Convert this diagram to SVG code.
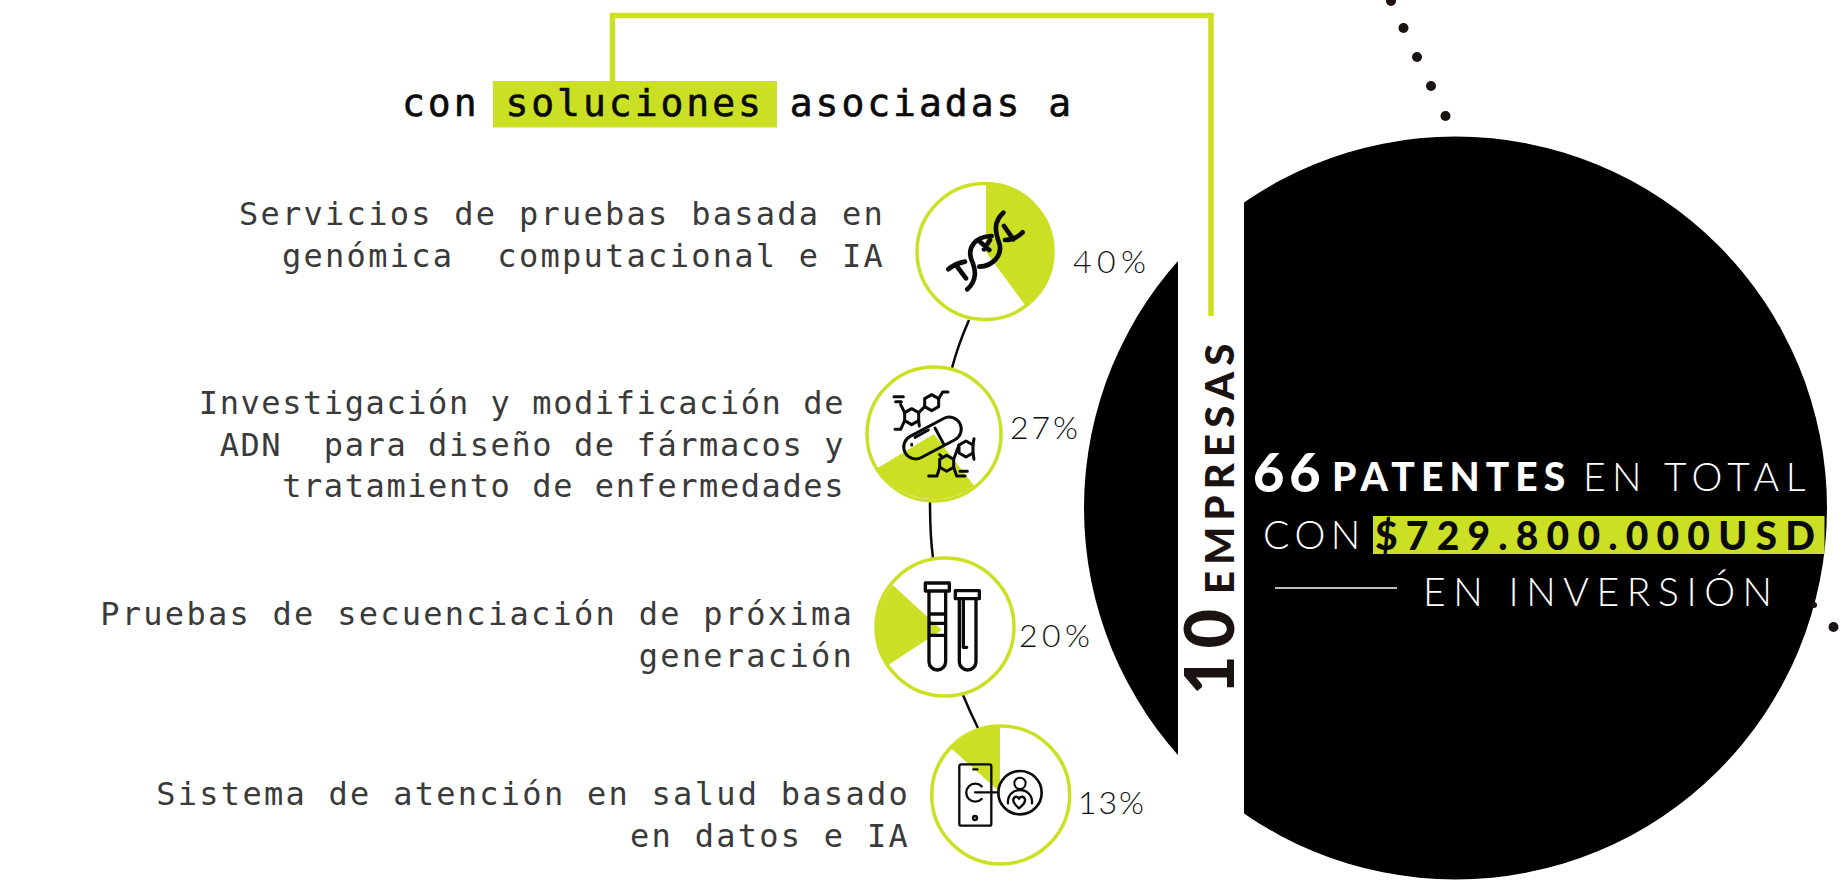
<svg xmlns="http://www.w3.org/2000/svg" width="1842" height="881" viewBox="0 0 1842 881">
<style>
.lime{fill:#cbe024}
.ring{fill:#fff;stroke:#cbe024;stroke-width:3.5}
.lab{font-family:"DejaVu Sans Mono",monospace;font-size:32px;fill:#3a3a3a;text-anchor:end;letter-spacing:2.27px;white-space:pre}
.lab2{letter-spacing:1.58px}
.pct{font-family:Lato,"Open Sans",sans-serif;font-weight:300;font-size:32px;fill:#111}
.hv{font-family:Lato,"Open Sans",sans-serif;font-weight:900;font-size:39px}
.th{font-family:Lato,"Open Sans",sans-serif;font-weight:300;font-size:39px;fill:#fff}
.ic{fill:none;stroke:#0a0a0a;stroke-linecap:round;stroke-linejoin:round}
.dot{fill:#1a1311}
</style>
<rect width="1842" height="881" fill="#fff"/>
<g id="background-disc">
<circle cx="1455.5" cy="508" r="371.5" fill="#000"/>
<rect x="1178" y="130" width="66" height="751" fill="#fff"/>
</g>
<g id="dots">
<circle class="dot" cx="1391" cy="1" r="5"/><circle class="dot" cx="1403.5" cy="28" r="5"/><circle class="dot" cx="1417" cy="57" r="5"/><circle class="dot" cx="1431" cy="86" r="5"/><circle class="dot" cx="1445.5" cy="116" r="5"/><circle class="dot" cx="1814" cy="605" r="3"/><circle class="dot" cx="1833.5" cy="627" r="5"/>
</g>
<g id="connectors" fill="none">
<path d="M612.5,81V15.5H1211V316" stroke="#cbe024" stroke-width="5.5"/>
<path d="M969,320Q958,345 952,368" stroke="#0a0a0a" stroke-width="2.5"/>
<path d="M930,502Q930,535 933,558" stroke="#0a0a0a" stroke-width="2.5"/>
<path d="M963,695Q970,712 978,728" stroke="#0a0a0a" stroke-width="2.5"/>
</g>
<g id="heading">
<rect class="lime" x="493" y="81" width="284" height="46.500"/>
<text x="402" y="116" font-family="'DejaVu Sans Mono',monospace" font-size="38" font-weight="400" fill="#0a0a0a" stroke="#0a0a0a" stroke-width=".6" letter-spacing="2.97" style="white-space:pre">con soluciones asociadas a</text>
</g>
<g id="node-genomica">
<circle class="ring" cx="985" cy="251.500" r="68"/>
<path class="lime" d="M986,252V183A68.500,68.500 0 0 1 1025.700,306Z"/>
<g transform="translate(880,160) scale(.3333)" class="ic" stroke-width="14">
<path d="M370,158C340,185 345,215 358,250C368,285 340,318 298,320"/>
<path d="M262,388C292,360 288,330 274,298C262,262 285,230 335,228"/>
<path d="M372,198L400,238M375,240C395,240 415,230 428,217M330,240L312,268M300,245L328,270M205,328C220,315 240,308 255,305M228,315L258,355"/>
</g>
<text class="lab" x="885" y="225">Servicios de pruebas basada en</text>
<text class="lab" x="885" y="267">genómica  computacional e IA</text>
<text class="pct" x="1073" y="273" letter-spacing="5.500">40%</text>
</g>
<g id="node-adn">
<circle class="ring" cx="934" cy="434" r="67"/>
<path class="lime" d="M934,434L877.300,468.300A67.500,67.500 0 0 0 974.300,486Z"/>
<g transform="translate(860,350) scale(.3333)" class="ic" stroke-width="9">
<rect x="125" y="228" width="186" height="72" rx="36" transform="rotate(-28 218 265)" fill="none"/>
<path d="M225,234L252,284M165,262L205,240M155,285V283"/>
<path d="M155,176L176,188V212L155,224L134,212V188ZM215,134L236,146V170L215,182L194,170V146ZM318,273L339,285V309L318,321L297,309V285ZM260,316L281,328V352L260,364L239,352V328Z" />
<path d="M176,188L194,170M134,188L122,164M102,140H130M107,155H124M134,212L122,238H105M176,212L178,228M236,146L248,126H264M297,285L281,328M339,285L342,266M339,309L342,328M239,352L231,378H206M281,352L290,378H315M300,364H322M239,314L245,320"/>
</g>
<text class="lab lab2" x="845" y="414">Investigación y modificación de</text>
<text class="lab lab2" x="845" y="456">ADN  para diseño de fármacos y</text>
<text class="lab lab2" x="845" y="497">tratamiento de enfermedades</text>
<text class="pct" x="1010" y="439" letter-spacing="3">27%</text>
</g>
<g id="node-secuenciacion">
<circle class="ring" cx="945" cy="627" r="69"/>
<path class="lime" d="M941.700,630L892.700,585A69.500,69.500 0 0 0 886.700,666Z"/>
<g transform="translate(860,540) scale(.3333)" class="ic" stroke-width="10" stroke-linecap="butt">
<path d="M196,129H268V153H196ZM207,153V365A25,25 0 0 0 257,365V153M207,222H257M207,250H257M207,286H257"/>
<path d="M286,152H358V176H286ZM298,176V365A25,25 0 0 0 348,365V176M310,180V322H320"/>
</g>
<text class="lab" x="854" y="625">Pruebas de secuenciación de próxima</text>
<text class="lab" x="854" y="667">generación</text>
<text class="pct" x="1019" y="647" letter-spacing="4.500">20%</text>
</g>
<g id="node-salud">
<circle class="ring" cx="1000.700" cy="795" r="69"/>
<path class="lime" d="M1000,792L1000,726.500A69.500,69.500 0 0 0 950.700,748Z"/>
<g transform="translate(920,710) scale(.3333)" class="ic" stroke-width="7">
<rect x="118" y="163" width="96" height="184" rx="6"/>
<path d="M160,178H172"/><circle cx="165" cy="324" r="6"/>
<path d="M185,229A27,27 0 1 0 185,267"/>
<path d="M165,247H235"/>
<circle cx="300" cy="248" r="65" stroke-width="8"/>
<circle cx="300" cy="220" r="17" stroke-width="6"/>
<path d="M264,280C262,255 280,240 300,240C320,240 338,255 336,280"/>
<path d="M297,295C285,285 278,278 280,268C283,258 293,258 297,266C301,258 312,258 315,268C317,278 309,285 297,295Z"/>
</g>
<text class="lab" x="910" y="805">Sistema de atención en salud basado</text>
<text class="lab" x="910" y="847">en datos e IA</text>
<text class="pct" x="1078" y="814" letter-spacing="2">13%</text>
</g>
<g id="label-empresas" fill="#1a1311">
<text transform="translate(1234,695) rotate(-90)" font-family="Lato,sans-serif" font-weight="900" font-size="68" letter-spacing="7">10</text>
<text transform="translate(1234,594) rotate(-90)" font-family="Lato,sans-serif" font-weight="900" font-size="40" letter-spacing="6.250">EMPRESAS</text>
</g>
<g id="stats">
<text class="hv" x="1253" y="492" fill="#fff" style="font-size:54px" letter-spacing="5">66</text>
<text class="hv" x="1332" y="491" fill="#fff" letter-spacing="6.100">PATENTES</text>
<text class="th" x="1583" y="491" letter-spacing="6.500">EN TOTAL</text>
<text class="th" x="1263" y="549" letter-spacing="5.500">CON</text>
<rect class="lime" x="1373" y="516" width="451.500" height="38"/>
<text class="hv" x="1375" y="550" fill="#0a0a0a" letter-spacing="8.200">$729.800.000USD</text>
<path d="M1275,588H1397" stroke="#fff" stroke-width="1.500"/>
<text class="th" x="1423" y="606" letter-spacing="7.600">EN INVERSIÓN</text>
</g>
</svg>
